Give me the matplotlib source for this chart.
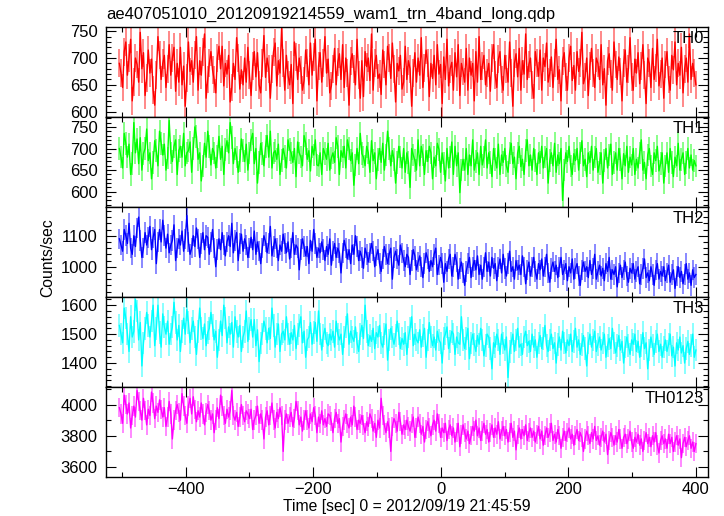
import numpy as np
import matplotlib
matplotlib.use("Agg")
import matplotlib.pyplot as plt
from matplotlib.ticker import MultipleLocator

plt.rcParams['font.family'] = ['Liberation Sans', 'DejaVu Sans']

title = "ae407051010_20120919214559_wam1_trn_4band_long.qdp"
xlabel = "Time [sec] 0 = 2012/09/19 21:45:59"
ylabel = "Counts/sec"
t_start, t_end = -504, 400

th0 = [690, 672, 645, 712, 730, 668, 700, 735, 620, 655, 700, 688, 655, 748, 680, 710, 630, 662, 715, 672,
       698, 640, 612, 668, 740, 705, 660, 690, 705, 645, 680, 725, 668, 700, 720, 638, 690, 655, 720, 650,
       685, 610, 662, 730, 675, 695, 655, 705, 740, 640, 695, 668, 712, 745, 625, 660, 690, 712, 678, 660,
       635, 700, 722, 680, 722, 648, 690, 670, 705, 618, 645, 690, 660, 738, 700, 642, 678, 650, 700, 655,
       720, 668, 630, 685, 712, 665, 710, 650, 635, 690, 742, 664, 700, 680, 625, 680, 712, 728, 648, 695,
       672, 755, 690, 640, 705, 668, 650, 688, 615, 730, 702, 660, 700, 678, 640, 658, 715, 690, 650, 728,
       668, 702, 735, 620, 685, 710, 655, 690, 740, 672, 698, 635, 648, 680, 718, 650, 692, 708, 660, 725,
       645, 700, 672, 612, 695, 708, 680, 650, 735, 668, 625, 695, 628, 712, 684, 700, 658, 745, 640, 690,
       705, 662, 670, 632, 715, 688, 650, 722, 700, 662, 728, 680, 618, 690, 676, 705, 642, 655, 722, 660,
       695, 680, 610, 672, 710, 655, 700, 668, 738, 645, 682, 715, 690, 628, 690, 662, 705, 650, 725, 670,
       688, 615, 702, 660, 735, 648, 680, 692, 640, 710, 665, 725, 630, 690, 675, 655, 718, 640, 700, 668,
       690, 620, 712, 655, 740, 660, 685, 705, 650, 672, 690, 638, 700, 725, 668, 645, 698, 712, 660, 640,
       705, 680, 655, 730, 672, 610, 690, 708, 665, 718, 640, 695, 670, 745, 660, 688, 700, 650, 625, 712,
       690, 666, 715, 640, 700, 684, 728, 655, 672, 702, 645, 690, 735, 660, 678, 620, 695, 710, 665, 640,
       700, 722, 658, 686, 640, 712, 675, 690, 748, 652, 665, 700, 630, 685, 718, 672, 645, 700, 690, 660,
       725, 650, 680, 612, 695, 708, 670, 640, 730, 688, 660, 702, 675, 620, 690, 715, 655, 680, 738, 664,
       640, 698, 672, 710, 652, 685, 725, 668, 615, 700, 690, 645, 718, 660, 682, 735, 648, 670, 700, 625,
       688, 712, 660, 640, 705, 678, 730, 650, 690, 668, 720, 635, 680, 700, 655, 745, 660, 690, 672, 650]

th1 = [700, 680, 655, 735, 712, 680, 710, 640, 665, 760, 690, 722, 665, 725, 650, 688, 700, 745, 672, 690,
       630, 668, 718, 695, 660, 740, 712, 685, 710, 650, 678, 765, 690, 670, 705, 720, 640, 695, 705, 680,
       735, 660, 690, 695, 715, 645, 700, 750, 728, 675, 690, 625, 660, 712, 680, 740, 705, 662, 700, 690,
       655, 682, 728, 675, 705, 640, 698, 718, 690, 760, 725, 665, 700, 680, 645, 672, 722, 695, 670, 710,
       650, 690, 720, 735, 665, 700, 620, 668, 712, 688, 660, 705, 730, 680, 740, 655, 690, 695, 675, 710,
       640, 672, 700, 682, 655, 720, 698, 690, 668, 700, 635, 715, 690, 680, 660, 730, 712, 675, 695, 648,
       705, 685, 720, 662, 660, 690, 640, 700, 688, 675, 712, 650, 678, 690, 668, 725, 705, 640, 695, 680,
       705, 655, 720, 700, 672, 690, 615, 662, 700, 665, 735, 688, 680, 660, 705, 690, 645, 718, 672, 690,
       630, 675, 700, 668, 712, 650, 685, 740, 700, 660, 695, 675, 620, 668, 705, 680, 655, 700, 645, 690,
       668, 610, 700, 685, 672, 650, 720, 660, 705, 685, 640, 695, 670, 705, 690, 630, 680, 660, 712, 698,
       645, 690, 665, 625, 700, 655, 680, 715, 640, 705, 660, 690, 598, 650, 675, 650, 700, 640, 685, 660,
       720, 650, 670, 690, 640, 705, 662, 680, 720, 655, 690, 668, 635, 700, 675, 655, 710, 640, 685, 668,
       700, 660, 645, 690, 712, 665, 680, 630, 690, 705, 658, 675, 640, 695, 720, 660, 685, 650, 700, 672,
       640, 690, 668, 705, 655, 680, 700, 620, 672, 690, 660, 712, 645, 685, 665, 700, 580, 650, 690, 670,
       705, 660, 640, 688, 672, 700, 650, 690, 718, 660, 675, 635, 690, 668, 705, 650, 680, 700, 645, 665,
       690, 620, 672, 700, 655, 685, 710, 640, 668, 690, 650, 700, 675, 630, 688, 660, 705, 645, 680, 662,
       700, 640, 675, 655, 690, 720, 650, 668, 630, 685, 700, 660, 640, 690, 672, 705, 648, 665, 690, 620,
       660, 690, 645, 700, 668, 635, 680, 660, 712, 650, 675, 690, 640, 668, 700, 655, 685, 650, 672, 660]

th2 = [1090, 1070, 1050, 1120, 1100, 1075, 1140, 1060, 1040, 1100, 1065, 1125, 1160, 1085, 1030, 1060, 1110, 1070, 1095, 1130,
       1055, 1095, 1120, 1010, 1080, 1120, 1080, 1150, 1100, 1060, 1105, 1045, 1070, 1085, 1135, 1020, 1060, 1090, 1070, 1115,
       1050, 1090, 1165, 1080, 1040, 1060, 1100, 1065, 1125, 1090, 1030, 1075, 1110, 1055, 1100, 1095, 1040, 1080, 1120, 1060,
       1000, 1055, 1090, 1055, 1110, 1070, 1035, 1080, 1100, 1065, 1140, 1045, 1085, 1110, 1020, 1075, 1105, 1050, 1090, 1070,
       1030, 1060, 1095, 1055, 1115, 1040, 1080, 1050, 1010, 1060, 1100, 1080, 1045, 1075, 1130, 1035, 1065, 1090, 1060, 1020,
       1070, 1050, 1105, 1075, 1045, 1080, 1025, 1060, 1110, 1040, 1070, 1060, 990, 1055, 1090, 1065, 1035, 1065, 1010, 1085,
       1050, 1120, 1075, 1030, 1060, 1045, 1080, 1055, 1020, 1065, 1040, 1090, 1005, 1050, 1075, 1030, 1060, 1045, 980, 1045,
       1085, 1060, 1025, 1055, 1010, 1070, 1040, 1100, 1065, 1020, 1050, 1030, 995, 1060, 1040, 1015, 1045, 1075, 1050, 1000,
       1035, 1055, 1010, 985, 1025, 1065, 1040, 1010, 1040, 1060, 960, 1030, 1050, 1025, 1005, 1070, 1045, 1020, 1000, 1040,
       1030, 975, 1020, 1055, 1035, 990, 1015, 1035, 1000, 965, 1010, 1045, 1025, 985, 1020, 1000, 1040, 1060, 975, 1005,
       1030, 1010, 950, 1010, 985, 1025, 1040, 970, 1000, 1040, 1015, 960, 995, 1015, 980, 940, 985, 1010, 1030, 965,
       1000, 1020, 990, 1035, 975, 1005, 960, 1000, 1045, 985, 1015, 970, 1030, 995, 1010, 955, 1000, 1025, 980, 1040,
       995, 970, 1010, 1050, 985, 1000, 960, 1020, 990, 1005, 975, 1035, 1000, 945, 990, 1015, 970, 1000, 1030, 985,
       960, 1010, 990, 1025, 970, 1000, 1040, 980, 950, 995, 1015, 985, 1005, 965, 1000, 1030, 975, 990, 1010, 955,
       1000, 980, 1025, 960, 995, 1010, 970, 940, 990, 1015, 985, 1000, 965, 1020, 975, 995, 1040, 960, 985, 1005,
       970, 995, 955, 1010, 985, 1030, 960, 990, 975, 1000, 935, 980, 1005, 965, 990, 1015, 970, 950, 995, 980,
       1010, 960, 985, 1000, 945, 975, 995, 1025, 965, 980, 955, 1000, 975, 940, 990, 1010, 960, 985, 970, 1000,
       955, 980, 1005, 950, 975, 990, 930, 970, 1000, 965, 985, 945, 975, 1010, 960, 980, 940, 990, 965, 975]

th3 = [1530, 1500, 1470, 1590, 1555, 1500, 1440, 1560, 1490, 1510, 1620, 1580, 1480, 1540, 1390, 1470, 1520, 1575, 1530, 1490,
       1545, 1600, 1460, 1520, 1600, 1505, 1455, 1570, 1525, 1500, 1545, 1465, 1500, 1525, 1610, 1540, 1480, 1530, 1440, 1510,
       1555, 1500, 1585, 1540, 1470, 1520, 1545, 1490, 1430, 1510, 1590, 1520, 1485, 1535, 1460, 1505, 1520, 1575, 1530, 1480,
       1510, 1420, 1480, 1545, 1495, 1600, 1555, 1470, 1525, 1500, 1540, 1455, 1560, 1510, 1490, 1530, 1440, 1490, 1510, 1580,
       1475, 1520, 1550, 1490, 1550, 1460, 1515, 1405, 1470, 1500, 1545, 1520, 1470, 1520, 1485, 1590, 1530, 1455, 1500, 1535,
       1440, 1500, 1510, 1480, 1560, 1500, 1465, 1505, 1480, 1530, 1450, 1500, 1530, 1560, 1470, 1510, 1420, 1480, 1490, 1540,
       1465, 1505, 1540, 1475, 1580, 1500, 1445, 1495, 1520, 1470, 1460, 1500, 1480, 1510, 1455, 1545, 1500, 1480, 1500, 1430,
       1490, 1525, 1570, 1465, 1510, 1490, 1475, 1525, 1470, 1440, 1500, 1530, 1485, 1600, 1510, 1460, 1495, 1475, 1520, 1450,
       1505, 1490, 1530, 1470, 1455, 1500, 1535, 1410, 1480, 1520, 1490, 1465, 1495, 1545, 1500, 1450, 1485, 1465, 1505, 1430,
       1490, 1520, 1560, 1460, 1500, 1480, 1470, 1515, 1455, 1495, 1520, 1420, 1480, 1540, 1490, 1460, 1490, 1445, 1510, 1480,
       1470, 1400, 1485, 1500, 1525, 1450, 1475, 1510, 1500, 1430, 1490, 1470, 1465, 1560, 1480, 1450, 1485, 1520, 1415, 1470,
       1500, 1465, 1440, 1495, 1465, 1520, 1480, 1425, 1460, 1500, 1490, 1450, 1380, 1470, 1455, 1500, 1480, 1430, 1500, 1470,
       1445, 1490, 1350, 1440, 1470, 1500, 1440, 1480, 1520, 1455, 1465, 1430, 1490, 1510, 1460, 1475, 1440, 1500, 1455, 1480,
       1420, 1470, 1495, 1450, 1485, 1530, 1460, 1440, 1480, 1500, 1450, 1470, 1400, 1465, 1490, 1445, 1510, 1470, 1435, 1480,
       1460, 1500, 1440, 1475, 1520, 1455, 1480, 1430, 1465, 1495, 1450, 1390, 1470, 1500, 1455, 1480, 1510, 1440, 1465, 1490,
       1445, 1470, 1500, 1420, 1460, 1485, 1450, 1520, 1470, 1435, 1460, 1495, 1445, 1475, 1400, 1455, 1490, 1460, 1430, 1480,
       1465, 1500, 1440, 1475, 1420, 1460, 1505, 1450, 1470, 1380, 1445, 1490, 1460, 1430, 1475, 1500, 1440, 1465, 1420, 1455,
       1480, 1440, 1465, 1500, 1425, 1455, 1390, 1470, 1445, 1490, 1435, 1460, 1400, 1450, 1475, 1430, 1460, 1500, 1420, 1445]

th0123 = [3980, 3940, 3880, 4060, 4000, 3940, 4010, 3850, 3930, 3990, 3920, 4090, 4020, 3960, 3900, 4040, 3960, 3870, 3970, 3930,
          4080, 4010, 3910, 3990, 3950, 4030, 3970, 3920, 3980, 3860, 3920, 4020, 3940, 3780, 3900, 3960, 4000, 3950, 3900, 4070,
          3990, 3930, 3880, 3990, 4040, 3940, 4050, 3970, 3890, 3960, 3920, 4010, 3940, 3870, 3950, 4000, 3960, 3900, 3940, 3820,
          3900, 3980, 3910, 4060, 3990, 3930, 3880, 3970, 3920, 3960, 4090, 3930, 3900, 3950, 3860, 3920, 4000, 3930, 3890, 3960,
          3940, 3910, 3970, 3840, 3900, 3930, 3990, 3880, 3940, 3900, 3780, 3920, 3960, 3870, 3930, 4010, 3900, 3850, 3950, 3910,
          3980, 3930, 3700, 3900, 3940, 3880, 3920, 3950, 3860, 3910, 4020, 3960, 3870, 3920, 3830, 3900, 3960, 3900, 3850, 3940,
          3890, 3980, 3930, 3820, 3920, 3880, 3960, 3870, 3910, 3860, 3940, 3930, 3890, 3820, 3910, 3950, 3880, 3910, 3760, 3860,
          3900, 3940, 3880, 3850, 3920, 3870, 3990, 3920, 3840, 3900, 3880, 3930, 3870, 3820, 3890, 3860, 3940, 3910, 3830, 3880,
          3790, 3900, 3850, 4040, 3930, 3870, 3820, 3890, 3850, 3700, 3860, 3910, 3880, 3830, 3950, 3890, 3810, 3870, 3840, 3900,
          3860, 3830, 3880, 3920, 3790, 3850, 3920, 3880, 3810, 3860, 3760, 3840, 3890, 3850, 3800, 3870, 3900, 3830, 3940, 3880,
          3790, 3850, 3820, 3880, 3770, 3840, 3870, 3800, 3850, 3760, 3820, 3880, 3730, 3810, 3870, 3820, 3780, 3830, 3750, 3800,
          3860, 3830, 3900, 3800, 3850, 3770, 3830, 3880, 3810, 3840, 3760, 3820, 3870, 3790, 3850, 3810, 3890, 3780, 3830, 3860,
          3800, 3840, 3760, 3820, 3880, 3790, 3830, 3710, 3810, 3850, 3780, 3840, 3800, 3870, 3770, 3820, 3850, 3790, 3830, 3760,
          3810, 3860, 3780, 3830, 3740, 3800, 3850, 3790, 3820, 3880, 3770, 3810, 3760, 3840, 3800, 3720, 3790, 3830, 3770, 3820,
          3850, 3780, 3810, 3740, 3800, 3840, 3770, 3820, 3790, 3700, 3780, 3830, 3800, 3750, 3820, 3780, 3860, 3770, 3800, 3740,
          3790, 3830, 3760, 3810, 3680, 3770, 3820, 3790, 3740, 3800, 3760, 3840, 3780, 3720, 3790, 3810, 3750, 3780, 3830, 3760,
          3720, 3790, 3760, 3810, 3740, 3780, 3700, 3770, 3820, 3750, 3790, 3730, 3800, 3760, 3820, 3740, 3690, 3770, 3800, 3750,
          3780, 3720, 3810, 3750, 3790, 3700, 3760, 3800, 3740, 3780, 3660, 3750, 3790, 3730, 3770, 3800, 3720, 3760, 3700, 3750]

series = [th0, th1, th2, th3, th0123]
names = ["TH0", "TH1", "TH2", "TH3", "TH0123"]
errors = [26, 26, 33, 39, 62]
colors = ["#ff0000", "#00ff00", "#0000ff", "#00ffff", "#ff00ff"]
ylims = [(590, 758), (565, 773), (903, 1193), (1318, 1629), (3538, 4114)]
ymajor = [50, 50, 100, 100, 200]
yminor = [10, 10, 20, 20, 100]

fig = plt.figure(figsize=(7.24, 5.16), dpi=100)
left, right = 106 / 724, 708 / 724
top_px, bot_px = 27, 476.7
h_px = (bot_px - top_px) / 5

axes = []
for i in range(5):
    y0 = 1 - (top_px + (i + 1) * h_px) / 516
    ax = fig.add_axes([left, y0, right - left, h_px / 516])
    axes.append(ax)
    vals = np.array(series[i], dtype=float)
    t = np.linspace(t_start, t_end, len(vals))
    ax.vlines(t, vals - errors[i], vals + errors[i], color=colors[i], alpha=0.5, lw=1.3)
    ax.plot(t, vals, color=colors[i], lw=1.0)
    ax.set_xlim(-525, 419)
    ax.set_ylim(*ylims[i])
    ax.xaxis.set_major_locator(MultipleLocator(200))
    ax.xaxis.set_minor_locator(MultipleLocator(100))
    ax.yaxis.set_major_locator(MultipleLocator(ymajor[i]))
    ax.yaxis.set_minor_locator(MultipleLocator(yminor[i]))
    ax.tick_params(which='both', direction='in', top=True, right=True, labelsize=12)
    ax.tick_params(axis='y', which='major', pad=6)
    ax.tick_params(which='major', length=7, width=0.8)
    ax.tick_params(which='minor', length=3.5, width=0.8)
    for sp in ax.spines.values():
        sp.set_linewidth(1.0)
    ax.text(0.993, 0.95, names[i], transform=ax.transAxes, ha='right', va='top', fontsize=12)
    if i < 4:
        ax.tick_params(labelbottom=False)

axes[-1].set_xlabel(xlabel, fontsize=11.3, labelpad=2)
fig.text(48 / 724, 1 - 258 / 516, ylabel, rotation=90, ha='center', va='center', fontsize=11.3)
fig.text(left, 1 - 14 / 516, title, ha='left', va='center', fontsize=11.9)

fig.savefig("out.png", dpi=100)
